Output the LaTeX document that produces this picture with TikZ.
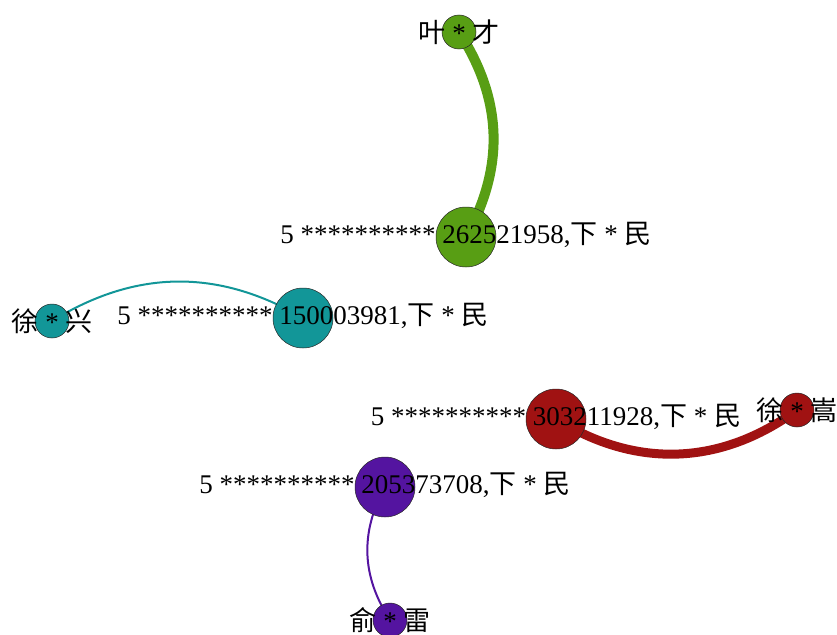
\documentclass[tikz,border=0pt]{standalone}
\usepackage{fontspec}
\setmainfont{Liberation Serif}
\newfontfamily\cjk{Noto Sans CJK SC}
\usetikzlibrary{backgrounds}

\definecolor{grpgreen}{RGB}{88,158,20}
\definecolor{grpteal}{RGB}{18,150,152}
\definecolor{grpred}{RGB}{160,18,18}
\definecolor{grppurple}{RGB}{84,20,160}

\tikzset{
  x=1pt, y=-1pt,
  vert/.style={circle, draw=black!85, line width=0.5pt, inner sep=0pt},
  hub/.style={vert, minimum size=60pt},
  leaf/.style={vert, minimum size=34pt},
  lbl/.style={inner sep=0pt, anchor=base, font=\fontsize{27}{30}\selectfont},
  link/.style={line cap=round},
}

\begin{document}
\begin{tikzpicture}
\useasboundingbox (0,0) rectangle (837,634);

% vertices
\node[hub,  fill=grpgreen]  (h1) at (466,237) {};
\node[leaf, fill=grpgreen]  (l1) at (459,32)  {};
\node[hub,  fill=grpteal]   (h2) at (303,318) {};
\node[leaf, fill=grpteal]   (l2) at (52,321)  {};
\node[hub,  fill=grpred]    (h3) at (556,419) {};
\node[leaf, fill=grpred]    (l3) at (797,410) {};
\node[hub,  fill=grppurple] (h4) at (385,487) {};
\node[leaf, fill=grppurple] (l4) at (390,620) {};

% edges, drawn beneath the vertices
\begin{scope}[on background layer]
  \draw[link, grpgreen,  line width=10pt] (l1.center) to[bend left=31]  (h1.center);
  \draw[link, grpteal,   line width=2pt]  (l2.center) to[bend left=31]  (h2.center);
  \draw[link, grpred,    line width=9pt]  (h3.center) to[bend right=34] (l3.center);
  \draw[link, grppurple, line width=2pt]  (h4.center) to[bend right=31] (l4.center);
\end{scope}

% labels, on top of the vertices
\node[lbl] (t1) at ([yshift=-6pt]h1.center) {5 ********** 262521958,{\cjk 下} * {\cjk 民}};
\node[lbl] (s1) at ([yshift=-10pt]l1.center) {{\cjk 叶} * {\cjk 才}};
\node[lbl] (t2) at ([yshift=-6pt]h2.center) {5 ********** 150003981,{\cjk 下} * {\cjk 民}};
\node[lbl] (s2) at ([yshift=-10pt]l2.center) {{\cjk 徐} * {\cjk 兴}};
\node[lbl] (t3) at ([yshift=-6pt]h3.center) {5 ********** 303211928,{\cjk 下} * {\cjk 民}};
\node[lbl] (s3) at ([yshift=-10pt]l3.center) {{\cjk 徐} * {\cjk 嵩}};
\node[lbl] (t4) at ([yshift=-6pt]h4.center) {5 ********** 205373708,{\cjk 下} * {\cjk 民}};
\node[lbl] (s4) at ([yshift=-10pt]l4.center) {{\cjk 俞} * {\cjk 雷}};
\end{tikzpicture}
\end{document}
